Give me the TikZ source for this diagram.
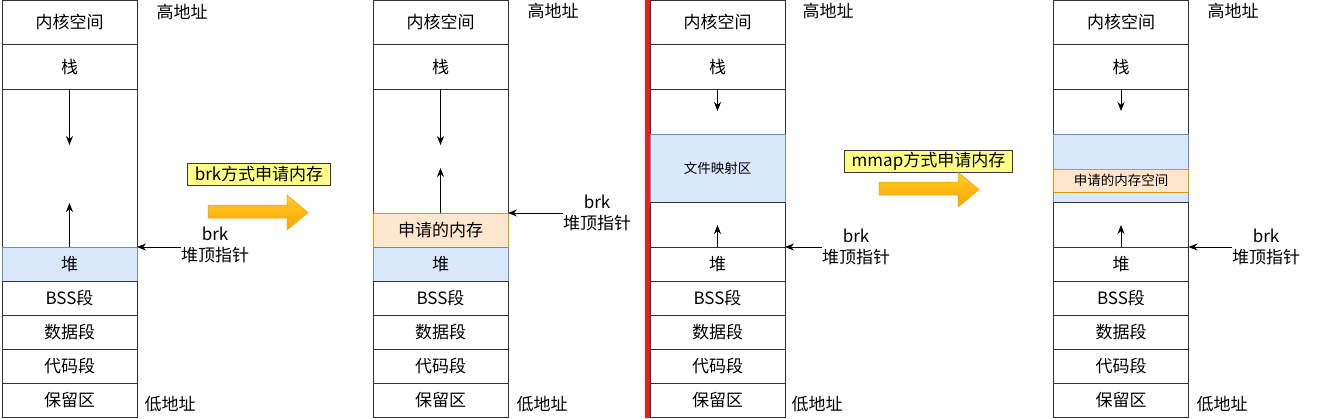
\documentclass[tikz,border=0pt]{standalone}
\usepackage{fontspec}
\setmainfont{Noto Sans CJK SC}
\usetikzlibrary{positioning,arrows.meta}

\definecolor{heapfill}{HTML}{DAE8FC}
\definecolor{heapline}{HTML}{6C8EBF}
\definecolor{reqfill}{HTML}{FFE6CC}
\definecolor{reqline}{HTML}{D79B00}
\definecolor{bannerfill}{HTML}{FFFF88}
\definecolor{bannerline}{HTML}{36393D}
\definecolor{arrowtop}{HTML}{FFCD28}
\definecolor{arrowbot}{HTML}{FFA500}
\definecolor{arrowline}{HTML}{E8A000}
\definecolor{sepred}{HTML}{E81E25}

\tikzset{
  seg/.style={draw=black!80, line width=1pt, minimum width=135pt, minimum height=34pt,
    inner sep=0pt, outer sep=0pt, font=\fontsize{17}{20}\selectfont},
  heapseg/.style={fill=heapfill, draw=heapline},
  reqseg/.style={fill=reqfill, draw=reqline},
  small/.style={font=\fontsize{13.5}{16}\selectfont},
  note/.style={inner sep=0pt, align=center, font=\fontsize{17}{21}\selectfont},
  banner/.style={draw=bannerline, fill=bannerfill, line width=1pt, minimum height=22pt,
    inner xsep=7pt, inner ysep=0pt, font=\fontsize{17}{20}\selectfont},
  growarrow/.style={-{Stealth[length=9pt,width=7pt]}, line width=0.9pt},
  bigarrow/.style={top color=arrowtop, bottom color=arrowbot, draw=arrowline, line width=0.5pt},
}

\begin{document}
\begin{tikzpicture}[x=1pt, y=-1pt, node distance=0pt]
  \useasboundingbox (0,0) rectangle (1317,418);

  % Panel 1: before brk
  \node[seg, minimum height=44.5pt, anchor=north] (kern1) at (69.5,0) {内核空间}; % kernel
  \node[seg, minimum height=44.5pt, below=of kern1] (stack1) {栈}; % stack
  \node[seg, minimum height=158pt, below=of stack1] (free1) {}; % free area
  \node[seg, heapseg, below=of free1] (heap1) {堆}; % heap
  \node[seg, below=of heap1] (bss1) {BSS段};
  \node[seg, below=of bss1] (data1) {数据段};
  \node[seg, below=of data1] (code1) {代码段};
  \node[seg, below=of code1] (resv1) {保留区};
  \node[note] (hi1) at (182,12) {高地址};
  \node[note] (lo1) at (170,404) {低地址};
  \node[note] (brk1) at (215,245) {brk\\堆顶指针};

  % Panel 2: after brk
  \node[seg, minimum height=44.5pt, anchor=north] (kern2) at (440.5,0) {内核空间};
  \node[seg, minimum height=44.5pt, below=of kern2] (stack2) {栈};
  \node[seg, minimum height=124pt, below=of stack2] (free2) {};
  \node[seg, reqseg, below=of free2] (req2) {申请的内存}; % memory from brk
  \node[seg, heapseg, below=of req2] (heap2) {堆};
  \node[seg, below=of heap2] (bss2) {BSS段};
  \node[seg, below=of bss2] (data2) {数据段};
  \node[seg, below=of data2] (code2) {代码段};
  \node[seg, below=of code2] (resv2) {保留区};
  \node[note] (hi2) at (553,11) {高地址};
  \node[note] (lo2) at (542,404) {低地址};
  \node[note] (brk2) at (597,213) {brk\\堆顶指针};

  % Panel 3: before mmap
  \node[seg, minimum height=44.5pt, anchor=north] (kern3) at (717.5,0) {内核空间};
  \node[seg, minimum height=44.5pt, below=of kern3] (stack3) {栈};
  \node[seg, minimum height=45pt, below=of stack3] (gapa3) {};
  \node[seg, heapseg, small, minimum height=68pt, below=of gapa3] (map3) {文件映射区}; % file mapping
  \node[seg, minimum height=45pt, below=of map3] (gapb3) {};
  \node[seg, below=of gapb3] (heap3) {堆};
  \node[seg, below=of heap3] (bss3) {BSS段};
  \node[seg, below=of bss3] (data3) {数据段};
  \node[seg, below=of data3] (code3) {代码段};
  \node[seg, below=of code3] (resv3) {保留区};
  \node[note] (hi3) at (828,11) {高地址};
  \node[note] (lo3) at (817,404) {低地址};
  \node[note] (brk3) at (856,247) {brk\\堆顶指针};

  % Panel 4: after mmap
  \node[seg, minimum height=44.5pt, anchor=north] (kern4) at (1121,0) {内核空间};
  \node[seg, minimum height=44.5pt, below=of kern4] (stack4) {栈};
  \node[seg, minimum height=45pt, below=of stack4] (gapa4) {};
  \node[seg, heapseg, minimum height=68pt, below=of gapa4] (map4) {};
  \node[seg, reqseg, small, minimum height=23pt, below=35pt of map4.north] (strip4) {申请的内存空间}; % memory from mmap
  \node[seg, minimum height=45pt, below=of map4] (gapb4) {};
  \node[seg, below=of gapb4] (heap4) {堆};
  \node[seg, below=of heap4] (bss4) {BSS段};
  \node[seg, below=of bss4] (data4) {数据段};
  \node[seg, below=of data4] (code4) {代码段};
  \node[seg, below=of code4] (resv4) {保留区};
  \node[note] (hi4) at (1233,11) {高地址};
  \node[note] (lo4) at (1222,404) {低地址};
  \node[note] (brk4) at (1266,247) {brk\\堆顶指针};

  % Growth arrows
  \coordinate[below=56pt of stack1.south] (down1);
  \coordinate[above=44pt of heap1.north] (up1);
  \coordinate[below=56pt of stack2.south] (down2);
  \coordinate[above=45pt of req2.north] (up2);
  \coordinate[below=22pt of stack3.south] (down3);
  \coordinate[above=22pt of heap3.north] (up3);
  \coordinate[below=22pt of stack4.south] (down4);
  \coordinate[above=22pt of heap4.north] (up4);
  \draw[growarrow] (stack1.south) -- (down1);
  \draw[growarrow] (heap1.north) -- (up1);
  \draw[growarrow] (stack2.south) -- (down2);
  \draw[growarrow] (req2.north) -- (up2);
  \draw[growarrow] (stack3.south) -- (down3);
  \draw[growarrow] (heap3.north) -- (up3);
  \draw[growarrow] (stack4.south) -- (down4);
  \draw[growarrow] (heap4.north) -- (up4);

  % brk pointers
  \draw[growarrow] (brk1.west |- heap1.north east) -- (heap1.north east);
  \draw[growarrow] (brk2.west |- req2.north east) -- (req2.north east);
  \draw[growarrow] (brk3.west |- heap3.north east) -- (heap3.north east);
  \draw[growarrow] (brk4.west |- heap4.north east) -- (heap4.north east);

  % Steps
  \node[banner] (tag1) at (259,174) {brk方式申请内存};
  \node[banner] (tag2) at (928.5,161) {mmap方式申请内存};
  \path[bigarrow] (208,205) -- (287,205) -- (287,195) -- (308,212.5) -- (287,230) -- (287,218) -- (208,218) -- cycle;
  \path[bigarrow, shift={(671,-23)}] (208,205) -- (287,205) -- (287,195) -- (308,212.5) -- (287,230) -- (287,218) -- (208,218) -- cycle;

  % Separator
  \draw[sepred, line width=5pt] (647.5,0) -- (647.5,418);

\end{tikzpicture}
\end{document}
